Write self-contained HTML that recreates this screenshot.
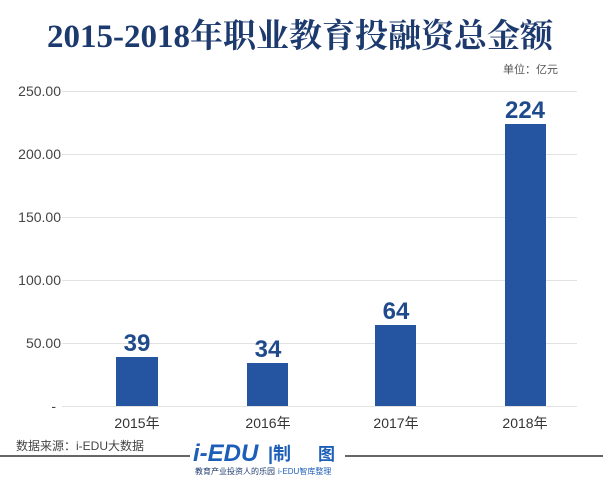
<!DOCTYPE html>
<html><head><meta charset="utf-8"><style>
body{margin:0;background:#fff;}
svg{display:block}
</style></head><body>
<svg width="603" height="480" xmlns="http://www.w3.org/2000/svg">
<rect width="603" height="480" fill="#fff"/>
<text x="300" y="47" text-anchor="middle" font-family="'Liberation Serif','Noto Serif CJK SC',serif" font-weight="bold" font-size="33" fill="#1d3a6e">2015-2018年职业教育投融资总金额</text>
<text x="558" y="73" text-anchor="end" font-family="'Liberation Sans','Noto Sans CJK SC',sans-serif" font-size="11" fill="#555">单位：亿元</text>
<g stroke="#e2e2e2" stroke-width="1">
<line x1="62" y1="91.5" x2="577" y2="91.5"/>
<line x1="62" y1="154.5" x2="577" y2="154.5"/>
<line x1="62" y1="217.5" x2="577" y2="217.5"/>
<line x1="62" y1="280.5" x2="577" y2="280.5"/>
<line x1="62" y1="343.5" x2="577" y2="343.5"/>
<line x1="62" y1="406.5" x2="577" y2="406.5"/>
</g>
<g font-family="'Liberation Sans',sans-serif" font-size="14" fill="#444" text-anchor="end">
<text x="61" y="96">250.00</text>
<text x="61" y="159">200.00</text>
<text x="61" y="222">150.00</text>
<text x="61" y="285">100.00</text>
<text x="61" y="348">50.00</text>
<text x="56" y="411">-</text>
</g>
<g fill="#2554a0">
<rect x="116" y="357" width="42" height="49"/>
<rect x="247" y="363" width="41" height="43"/>
<rect x="375" y="325" width="41" height="81"/>
<rect x="505" y="124" width="41" height="282"/>
</g>
<g font-family="'Liberation Sans',sans-serif" font-weight="bold" font-size="24" fill="#1f4a8c" text-anchor="middle">
<text x="137" y="351">39</text>
<text x="268" y="357">34</text>
<text x="396" y="319">64</text>
<text x="525" y="118">224</text>
</g>
<g font-family="'Liberation Sans','Noto Sans CJK SC',sans-serif" font-size="14" fill="#333" text-anchor="middle">
<text x="137" y="428">2015年</text>
<text x="268" y="428">2016年</text>
<text x="396" y="428">2017年</text>
<text x="525" y="428">2018年</text>
</g>
<text x="16" y="450" font-family="'Liberation Sans','Noto Sans CJK SC',sans-serif" font-size="12" fill="#444">数据来源：i-EDU大数据</text>
<line x1="0" y1="456" x2="190" y2="456" stroke="#333" stroke-width="1.5"/>
<line x1="345" y1="456" x2="603" y2="456" stroke="#333" stroke-width="1.5"/>
<text x="193" y="461" font-family="'Liberation Sans',sans-serif" font-style="italic" font-weight="bold" font-size="24" fill="#1d5fb8">i-EDU</text>
<text x="268" y="460" font-family="'Liberation Sans','Noto Sans CJK SC',sans-serif" font-weight="bold" font-size="18" fill="#1d5fb8">|制</text>
<text x="318" y="460" font-family="'Liberation Sans','Noto Sans CJK SC',sans-serif" font-weight="bold" font-size="17" fill="#1d5fb8">图</text>
<text x="195" y="474" font-family="'Liberation Sans','Noto Sans CJK SC',sans-serif" font-size="8" fill="#1d3a6e">教育产业投资人的乐园</text>
<text x="278" y="474" font-family="'Liberation Sans','Noto Sans CJK SC',sans-serif" font-size="8" fill="#1d5fb8">i-EDU智库整理</text>
</svg>
</body></html>
